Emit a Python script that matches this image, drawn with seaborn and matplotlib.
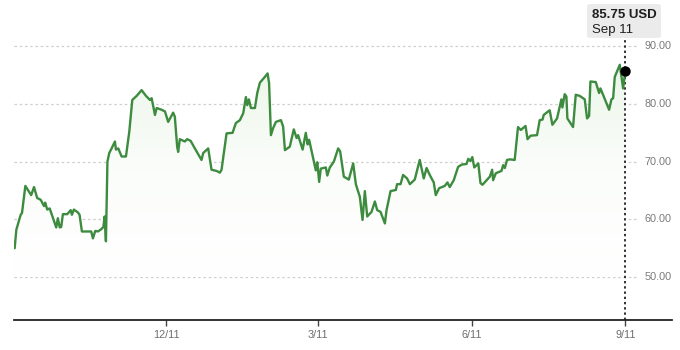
import numpy as np
import pandas as pd
import matplotlib
matplotlib.use("Agg")
import matplotlib.pyplot as plt
import matplotlib.dates as mdates
import seaborn as sns
from matplotlib.patches import FancyBboxPatch
from matplotlib.colors import LinearSegmentedColormap

# ---------------- data ----------------
start_date = "2023-09-11"
day_offsets = [
    0.0, 1.0, 3.6, 4.4, 6.4, 9.9, 11.6, 13.5, 15.6, 17.6, 18.3, 19.5, 21.0, 24.9, 25.9,
    27.0, 27.9, 28.9, 31.5, 33.6, 34.3, 35.5, 37.9, 38.9, 40.3, 42.9, 45.9, 46.9, 48.3,
    49.9, 51.9, 53.2, 53.9, 54.7, 55.6, 56.7, 58.1, 60.1, 60.7, 62.1, 64.1, 66.7, 68.7,
    70.5, 73.1, 76.1, 78.7, 81.1, 82.1, 84.1, 85.1, 88.1, 90.1, 92.0, 95.0, 96.0, 97.4,
    98.0, 99.0, 102.0, 103.4, 105.5, 108.0, 112.0, 113.0, 116.0, 118.0, 121.0, 123.0,
    124.0, 127.0, 130.6, 132.6, 135.0, 137.0, 138.6, 139.4, 140.4, 141.6, 144.0, 145.4,
    147.0, 150.0, 151.6, 152.5, 153.6, 154.9, 156.6, 159.6, 160.9, 162.0, 164.9, 167.3,
    169.0, 169.9, 172.6, 174.5, 175.6, 176.5, 180.5, 181.4, 182.5, 183.5, 186.5, 187.4,
    188.9, 191.3, 193.9, 195.1, 197.3, 200.3, 202.9, 204.5, 206.9, 208.5, 209.9, 211.3,
    213.9, 215.9, 217.3, 219.3, 221.9, 222.9, 225.3, 228.5, 229.2, 231.3, 232.8, 235.2,
    236.9, 239.8, 242.8, 245.2, 246.9, 248.8, 251.2, 252.4, 254.4, 257.8, 259.4, 260.8,
    263.2, 265.8, 268.0, 270.8, 271.9, 273.2, 274.3, 275.5, 277.9, 279.2, 280.4, 284.8,
    286.2, 286.8, 288.4, 291.8, 292.8, 293.8, 295.1, 296.8, 299.7, 301.7, 303.4, 306.2,
    307.4, 309.2, 313.1, 314.7, 316.4, 317.1, 319.7, 320.7, 322.3, 325.1, 327.7, 328.3,
    329.7, 330.7, 331.3, 334.7, 336.3, 338.7, 341.7, 343.1, 344.3, 345.1, 348.3, 350.3,
    351.1, 353.1, 356.3, 357.7, 358.7, 359.7, 362.7, 364.1, 364.7, 366.0,
]
prices = [
    55.0, 58.2, 60.8, 61.1, 65.8, 64.2, 65.6, 63.7, 63.4, 62.3, 62.9, 61.7, 61.9, 58.6, 60.2,
    58.6, 58.7, 60.9, 60.9, 61.6, 60.8, 61.7, 61.2, 60.8, 57.9, 57.9, 57.9, 56.7, 58.0,
    57.9, 58.3, 58.7, 60.5, 56.2, 70.0, 71.5, 72.3, 73.5, 72.1, 72.3, 70.9, 70.9, 75.2,
    80.7, 81.4, 82.4, 81.4, 80.7, 81.0, 78.1, 79.3, 79.0, 78.7, 76.9, 78.5, 77.8, 72.6,
    71.7, 73.9, 73.5, 73.9, 73.6, 72.3, 70.3, 71.5, 72.3, 68.6, 68.4, 68.1,
    68.6, 74.9, 75.0, 76.7, 77.2, 78.4, 81.2, 79.8, 80.8, 79.3, 79.3, 81.9,
    83.7, 84.7, 85.3, 83.6, 74.6, 75.8, 76.9, 77.2, 76.1, 72.0, 72.6, 75.6,
    74.1, 74.6, 72.1, 75.0, 73.0, 73.8, 68.5, 69.9, 66.5, 68.8, 69.0, 67.6,
    69.0, 70.0, 72.3, 71.8, 67.4, 66.9, 69.7, 66.1, 63.9, 59.9, 64.9, 60.5,
    61.3, 63.1, 61.6, 61.3, 59.3, 61.6, 64.9, 65.1, 66.1, 66.1, 67.7, 67.1,
    66.1, 66.9, 70.3, 67.1, 68.9, 67.7, 66.4, 64.2, 65.4, 65.8, 66.4, 65.6,
    66.8, 69.1, 69.5, 69.6, 70.5, 70.1, 70.8, 69.0, 69.7, 66.3, 66.0, 67.4,
    68.6, 66.8, 68.0, 68.4, 69.4, 68.9, 70.3, 70.4, 70.3, 76.0, 75.5, 76.2,
    73.9, 74.5, 74.6, 77.2, 77.3, 78.1, 78.7, 78.9, 76.4, 77.5, 80.8, 79.4,
    81.7, 81.3, 77.5, 76.0, 81.6, 81.4, 80.8, 77.5, 77.9, 83.9, 83.8, 81.9,
    82.7, 81.3, 79.0, 80.8, 81.0, 84.7, 86.8, 83.9, 82.7, 85.75,
]
x_tick_dates = ["2023-12-11", "2024-03-11", "2024-06-11", "2024-09-11"]
x_tick_labels = ["12/11", "3/11", "6/11", "9/11"]
y_ticks = [50, 60, 70, 80, 90]
y_tick_labels = ["50.00", "60.00", "70.00", "80.00", "90.00"]
last_date = "2024-09-11"
last_price = 85.75
tooltip_value = "85.75 USD"
tooltip_date = "Sep 11"

# ---------------- styling ----------------
GREEN = "#3d8b3f"
W, H = 680, 350

start = pd.Timestamp(start_date)
dates = start + pd.to_timedelta(day_offsets, unit="D")
df = pd.DataFrame({"date": dates, "price": prices})

sns.set_theme(style="white")
plt.rcParams["font.family"] = ["Liberation Sans", "DejaVu Sans"]

fig = plt.figure(figsize=(W / 100, H / 100), dpi=100)
ax = fig.add_axes([14 / W, 30 / H, (672 - 14) / W, 310 / H])

y_bottom, y_top = 42.56, 96.29
x_left = start - pd.Timedelta(days=0.4)
x_right = start + pd.Timedelta(days=394)

sns.lineplot(data=df, x="date", y="price", ax=ax, color=GREEN,
             linewidth=1.7, zorder=4)

# gradient fill under the line
fill = ax.fill_between(df["date"], df["price"], y_bottom,
                       facecolor="none", edgecolor="none")
cmap = LinearSegmentedColormap.from_list("g", ["#ffffff", "#fbfdfa", "#ecf6ea"])
grad = np.linspace(0, 1, 256).reshape(-1, 1)
x0n, x1n = mdates.date2num(x_left), mdates.date2num(x_right)
im = ax.imshow(grad, extent=[x0n, x1n, 50, 87], origin="lower",
               aspect="auto", cmap=cmap, zorder=1)
im.set_clip_path(fill.get_paths()[0], transform=ax.transData)

# grid lines (dotted) and right-side labels
grid_end = start + pd.Timedelta(days=373.5)
for yv, lab in zip(y_ticks, y_tick_labels):
    ax.hlines(yv, x_left, grid_end, colors="#cfcfcf", linewidth=0.9,
              linestyles=(0, (2, 2.2)), zorder=0.5)
    ax.text(start + pd.Timedelta(days=377.5), yv, lab, ha="left", va="center",
            fontsize=7.8, color="#7a7a7a")

# vertical dotted marker line and end point
ld = pd.Timestamp(last_date)
ax.vlines(ld, y_bottom, 91.4, colors="#222222", linewidth=1.3,
          linestyles=(0, (1.3, 1.6)), zorder=3)
ax.plot([ld], [last_price], "o", color="black", markersize=6.5, zorder=6)

ax.set_xlim(x_left, x_right)
ax.set_ylim(y_bottom, y_top)
ax.set_yticks([])
ax.set_xticks(pd.to_datetime(x_tick_dates))
ax.set_xticklabels(x_tick_labels)
ax.tick_params(axis="x", direction="out", length=4, width=1, color="#444444",
               labelsize=7.8, labelcolor="#6e6e6e", pad=3, bottom=True)
ax.set_xlabel("")
ax.set_ylabel("")
for s in ["top", "left", "right"]:
    ax.spines[s].set_visible(False)
ax.spines["bottom"].set_color("#222222")
ax.spines["bottom"].set_linewidth(1.3)
ax.patch.set_alpha(0)

# tooltip box (figure pixel coordinates, origin bottom-left)
box = FancyBboxPatch((587 / W, (H - 38) / H), (661 - 587) / W, 34 / H,
                     boxstyle="round,pad=0,rounding_size=0.006",
                     transform=fig.transFigure, facecolor="#ebebeb",
                     edgecolor="none", zorder=10)
fig.patches.append(box)
fig.text(592 / W, (H - 15) / H, tooltip_value, ha="left", va="center",
         fontsize=9.5, fontweight="bold", color="#1e1e1e", zorder=11)
fig.text(592 / W, (H - 30.5) / H, tooltip_date, ha="left", va="center",
         fontsize=9.5, color="#1e1e1e", zorder=11)

fig.savefig("out.png", dpi=100)
